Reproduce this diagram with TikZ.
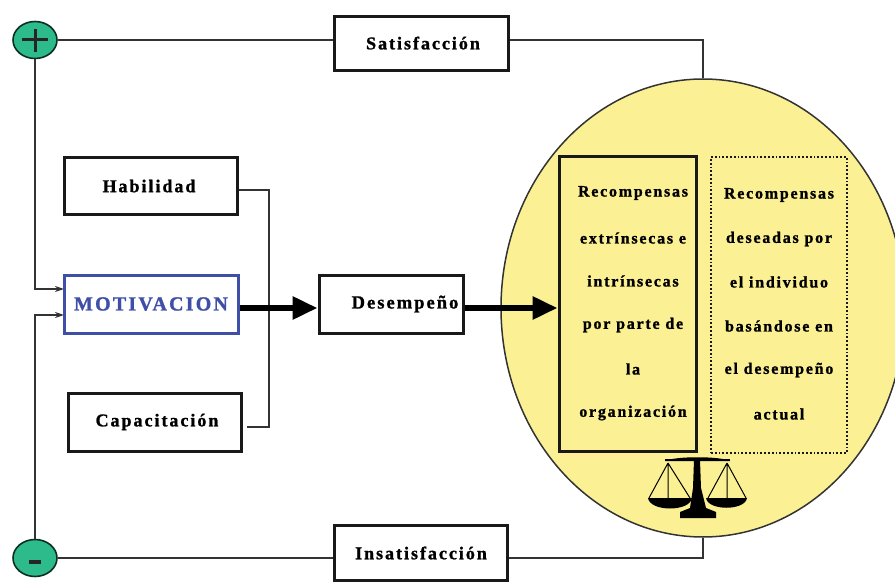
\documentclass[tikz,border=0pt]{standalone}
\usepackage{fontspec}
\setmainfont{Liberation Serif}
\newfontfamily\boxfont[LetterSpace=11,FakeBold=1.2]{Liberation Serif Bold}
\usetikzlibrary{arrows.meta,calc,shapes.geometric}
\definecolor{ell}{HTML}{FBF194}
\definecolor{sign}{HTML}{2DBB8C}
\definecolor{mot}{HTML}{3F4FA8}
\definecolor{lin}{HTML}{333333}
\tikzset{
  x=1pt,y=-1pt,
  boxn/.style={draw=black!90,line width=3pt,fill=white,inner sep=0,font=\boxfont\fontsize{18}{20}\selectfont,text=black},
  signn/.style={ellipse,draw=black!75!sign,line width=1.6pt,fill=sign,minimum width=44pt,minimum height=37pt,inner sep=0},
  lnk/.style={draw=lin,line width=1.5pt},
  small/.style={lnk,-{Stealth[length=9pt,width=6pt]}},
  big/.style={draw=black,line width=6pt,-{Triangle[length=25pt,width=22pt]}},
  rowt/.style={font=\boxfont\fontsize{16}{18}\selectfont,text=black,inner sep=0},
}
\begin{document}
\begin{tikzpicture}
\useasboundingbox (0,0) rectangle (895,583);
\begin{scope}
\clip (0,0) rectangle (895,583);
\node[ellipse,draw=black!80,line width=1.5pt,fill=ell,minimum width=404pt,minimum height=458pt,inner sep=0] (oval) at (703,308) {};
\end{scope}
\node[boxn,minimum width=174pt,minimum height=54pt] (sat) at (421,44) {\raisebox{2pt}{\hspace*{4pt}Satisfacción}};
\node[boxn,minimum width=173pt,minimum height=55pt] (ins) at (421,553) {Insatisfacción};
\node[boxn,minimum width=173pt,minimum height=57pt] (hab) at (151,186) {Habilidad\hspace*{4pt}};
\node[boxn,draw=mot,text=mot,minimum width=174pt,minimum height=58pt,font=\boxfont\fontsize{20}{22}\selectfont] (moti) at (151,304) {MOTIVACION};
\node[boxn,minimum width=173pt,minimum height=58pt] (cap) at (155,422) {\raisebox{-2pt}{\hspace*{4pt}Capacitación}};
\node[boxn,minimum width=144pt,minimum height=58pt] (des) at (391,304) {\raisebox{-2pt}{\hspace*{28pt}\fontsize{18.5}{20}\selectfont Desempeño}};
\node[draw=black!90,line width=3pt,fill=ell,minimum width=137pt,minimum height=294pt,inner sep=0] (ext) at (627.5,304) {};
\node[draw=black!90,line width=1.8pt,dotted,fill=ell,minimum width=136pt,minimum height=296pt,inner sep=0] (des2) at (779,305) {};
\node[signn] (plus) at (35,40) {};
\node[signn] (minus) at (35,558) {};
% signs
\draw[line width=3pt,black!85] (22,40) -- (48,40) (35,29) -- (35,52);
\draw[line width=3.5pt,black!85] (29,562) -- (41,562);
% rows
\foreach \t/\y/\n in {Recompensas/193/a,extrínsecas e/238/b,intrínsecas/281/c,por parte de/325/d,la/369/e,organización/413/f}
  \node[rowt] (l\n) at (633,\y) {\t};
\foreach \t/\y/\n in {Recompensas/195/a,deseadas por/239/b,el individuo/282/c,basándose en/326/d,el desempeño/370/e,actual/414/f}
  \node[rowt] (r\n) at (779,\y) {\t};
% connectors
\coordinate (topj) at (703,40);
\coordinate (botj) at (703,558);
\draw[lnk] (plus.east) -- (sat.west |- topj);
\draw[lnk] (sat.east |- topj) -- (topj) -- (oval.north);
\draw[lnk] (minus.east) -- (ins.west |- botj);
\draw[lnk] (ins.east |- botj) -- (botj) -- (oval.south);
\coordinate (mta) at (64,289);
\coordinate (mtb) at (64,315);
\draw[small] (plus.south) |- (mta);
\draw[small] (minus.north) |- (mtb);
\coordinate (j1) at (269,190);
\coordinate (j2) at (269,427);
\coordinate (capend) at (247,427);
\draw[lnk] (hab.east |- j1) -- (j1) -- (j2) -- (capend);
\coordinate (arr) at (0,308);
\draw[big] (moti.east |- arr) -- (des.west |- arr);
\draw[big] (des.east |- arr) -- (ext.west |- arr);
% scales
\fill[black] (665,461) .. controls (675,456) and (720,456) .. (730,461) -- cycle;
\draw[black,line width=1.6pt] (665,460) -- (730,460);
\fill[black] (694,460) -- (700,460) -- (701,488) -- (706,508) -- (716,512) -- (716,518) -- (680,518) -- (680,512) -- (690,508) -- (693,488) -- cycle;
\draw[black,line width=1pt] (668,463) -- (649,498) (668,463) -- (668,498) (668,463) -- (690,498);
\draw[black,line width=1pt] (727,463) -- (708,498) (727,463) -- (727,498) (727,463) -- (746,498);
\fill[black] (648,498) -- (692,498) .. controls (690,512) and (650,512) .. (648,498) -- cycle;
\fill[black] (706,498) -- (747,498) .. controls (745,511) and (708,511) .. (706,498) -- cycle;
\end{tikzpicture}
\end{document}
